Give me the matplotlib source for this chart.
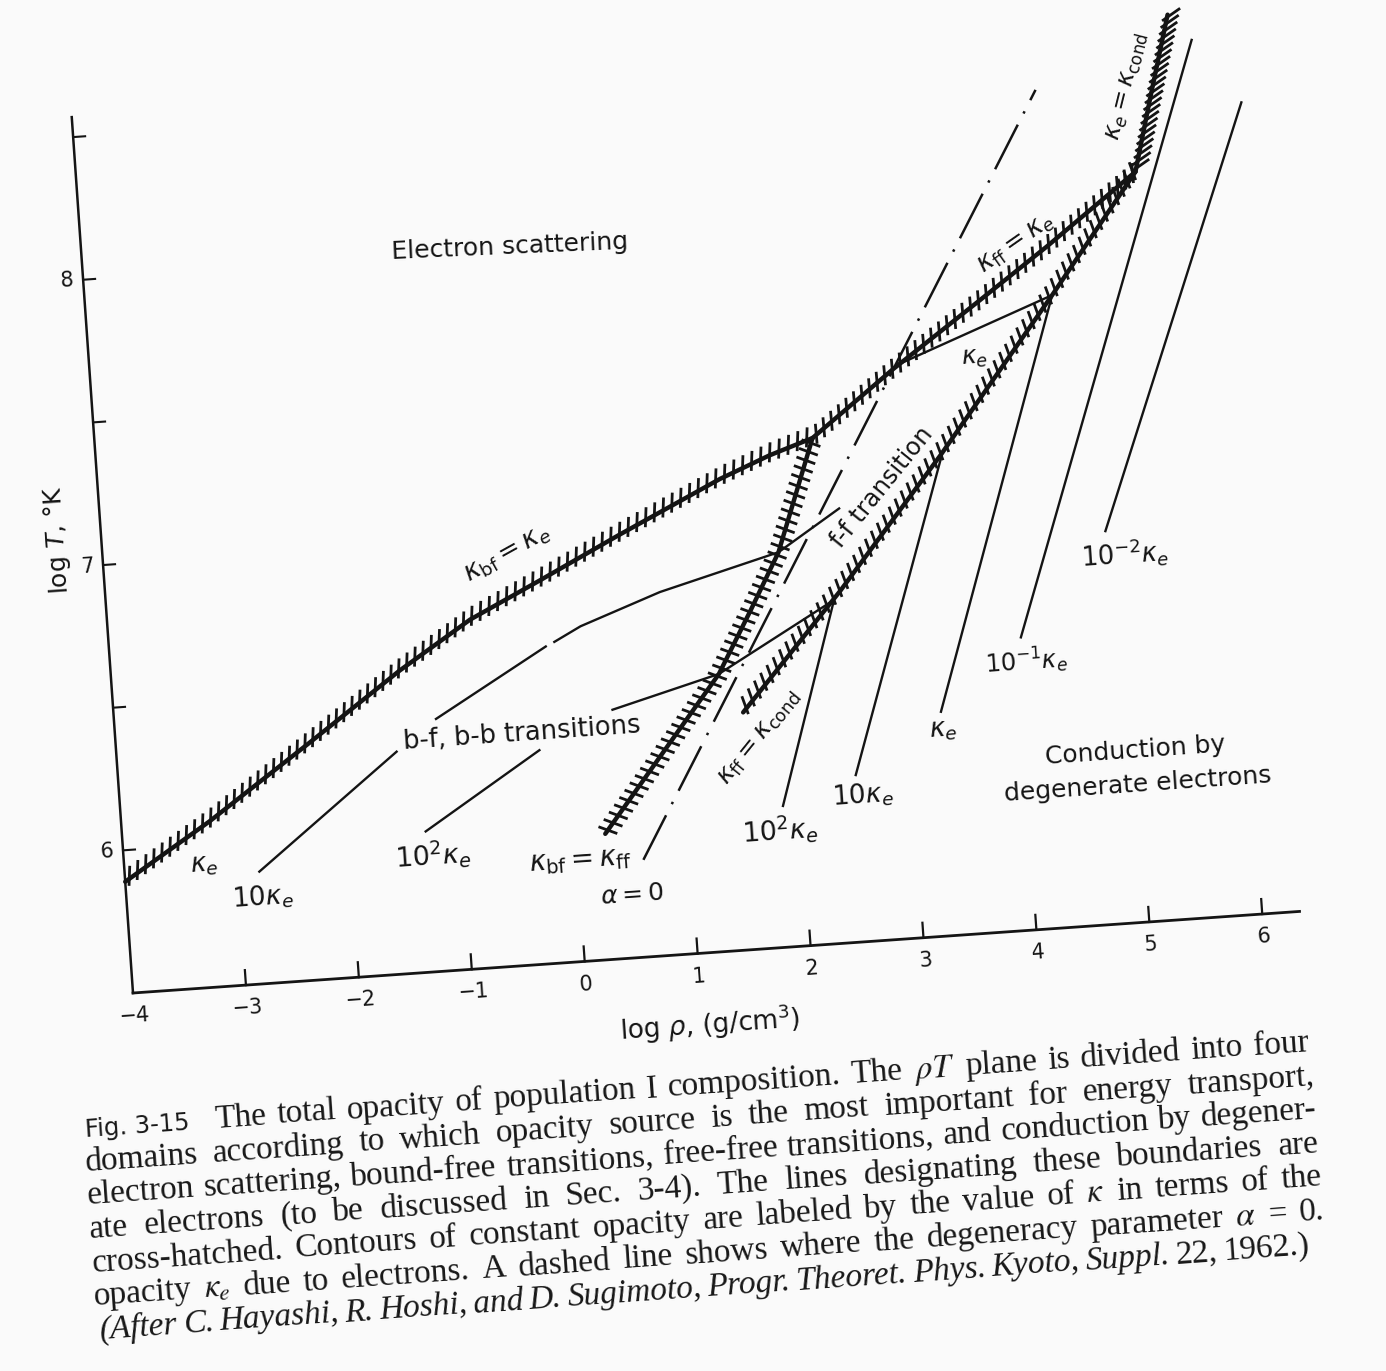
import re
import numpy as np
import matplotlib
matplotlib.use('Agg')
import matplotlib.pyplot as plt
import matplotlib.transforms as mtransforms
from matplotlib.collections import LineCollection

plt.rcParams['font.family'] = ['DejaVu Sans']
plt.rcParams['mathtext.fontset'] = 'dejavusans'

INK = '#141414'
PAPER = '#fafafa'

# ---- values: (log rho [g/cm3], log T [K]) ----
# boundaries (cross-hatched)
bf_e_rho = [-4.0, -3.22, -2.29, -1.45, -0.80, -0.16, 0.57, 1.49, 1.94, 2.33]
bf_e_T = [5.89, 6.08, 6.33, 6.56, 6.72, 6.84, 6.98, 7.15, 7.22, 7.27]
ff_e_rho = [2.33, 3.08, 3.89, 4.51, 5.34]
ff_e_T = [7.27, 7.49, 7.71, 7.88, 8.12]
e_cond_rho = [5.34, 5.52, 5.72]
e_cond_T = [8.12, 8.38, 8.66]
bf_ff_rho = [0.26, 0.82, 1.36, 1.68, 1.96, 2.33]
bf_ff_T = [5.94, 6.21, 6.47, 6.685, 6.88, 7.27]
ff_cond_rho = [1.55, 2.48, 3.45, 4.53, 5.34]
ff_cond_T = [6.33, 6.73, 7.18, 7.71, 8.12]

# contours of constant opacity (nan = gap left for a label)
k10_rho = [-2.82, -1.52, np.nan, -1.17, -0.14, np.nan, -0.08, 0.17, 0.89, 1.96, 2.53]
k10_T = [5.89, 6.28, np.nan, 6.38, 6.61, np.nan, 6.62, 6.67, 6.77, 6.88, 7.02]
k100_rho = [-1.33, -0.26, np.nan, 0.39, 1.36, 2.42]
k100_T = [5.99, 6.25, np.nan, 6.37, 6.47, 6.70]
k100c_rho = [1.84, 2.42]
k100c_T = [5.99, 6.70]
k10c_rho = [2.50, 3.46]
k10c_T = [6.08, 7.18]
k1c_rho = [3.29, 4.53, 3.16]
k1c_T = [6.28, 7.71, 7.51]
k01_rho = [4.04, 5.92]
k01_T = [6.52, 8.57]
k001_rho = [4.85, 6.32]
k001_T = [6.87, 8.34]

# degeneracy parameter alpha = 0
alpha_rho = [0.58, 4.51]
alpha_T = [5.84, 8.43]

x_ticks = [-4, -3, -2, -1, 0, 1, 2, 3, 4, 5, 6]
x_ticklabels = ['\u22124', '\u22123', '\u22122', '\u22121', '0', '1', '2', '3', '4', '5', '6']
y_minor = [6.0, 6.5, 7.0, 7.5, 8.0, 8.5]
y_ticks = [6, 7, 8]

caption = [
    "domains according to which opacity source is the most important for energy transport,",
    "electron scattering, bound-free transitions, free-free transitions, and conduction by degener-",
    "ate electrons (to be discussed in Sec. 3-4).  The lines designating these boundaries are",
    "cross-hatched.  Contours of constant opacity are labeled by the value of $\\kappa$ in terms of the",
    "opacity $\\kappa_e$ due to electrons.  A dashed line shows where the degeneracy parameter $\\alpha$ = 0.",
    "(After C. Hayashi, R. Hoshi, and D. Sugimoto, Progr. Theoret. Phys. Kyoto, Suppl. 22, 1962.)",
]
caption_first = "The total opacity of population I composition.  The $\\rho T$ plane is divided into four"

# ---- page set-up: the scanned plot is tilted by ~4 degrees ----
W, H = 1386, 1371
SX, SY = 113.2, 286.0          # px per unit of log rho / log T
OX, OY = 133, 378              # display px of the axes origin (-4, 5.5)
TILT = 4.0

fig = plt.figure(figsize=(W / 100, H / 100), dpi=100, facecolor=PAPER)
ax = fig.add_axes([0, 0, 1, 1])
ax.set_axis_off()
ax.set_xlim(-4 - OX / SX, -4 + (W - OX) / SX)
ax.set_ylim(5.5 - OY / SY, 5.5 + (H - OY) / SY)
T = ax.transData + mtransforms.Affine2D().rotate_deg_around(OX, OY, TILT)


def hatched(us, vs, ang, a, b, step, lw=2.0):
    ax.plot(us, vs, color=INK, lw=3.2, transform=T,
            solid_joinstyle='round', solid_capstyle='round')
    pts = T.transform(np.column_stack([us, vs]))
    d = np.hypot(*np.diff(pts, axis=0).T)
    s = np.concatenate([[0], np.cumsum(d)])
    ss = np.arange(step * 0.5, s[-1], step)
    xs = np.interp(ss, s, pts[:, 0])
    ys = np.interp(ss, s, pts[:, 1])
    ca, sa = np.cos(np.radians(ang)), np.sin(np.radians(ang))
    segs = [[(x - a * ca, y - a * sa), (x + b * ca, y + b * sa)] for x, y in zip(xs, ys)]
    ax.add_collection(LineCollection(segs, colors=INK, linewidths=lw,
                                     transform=mtransforms.IdentityTransform()),
                      autolim=False)


def thin(us, vs):
    ax.plot(us, vs, color=INK, lw=1.7, transform=T, solid_capstyle='butt')


def label(s, u, v, size, rot=0.0, **kw):
    ax.text(u, v, s, transform=T, rotation=TILT + rot, rotation_mode='anchor',
            ha='center', va='center', fontsize=size, color=INK, **kw)


# axes
ax.plot([-4, 6.33], [5.5, 5.5], color=INK, lw=2.0, transform=T)
ax.plot([-4, -4], [5.5, 8.57], color=INK, lw=1.8, transform=T)
for t, lab in zip(x_ticks, x_ticklabels):
    if t > -4:
        ax.plot([t, t], [5.5, 5.5 + 15 / SY], color=INK, lw=1.6, transform=T)
    label(lab, t, 5.5 - 23 / SY, 15)
for t in y_minor:
    ax.plot([-4, -4 + 12 / SX], [t, t], color=INK, lw=1.5, transform=T)
for t in y_ticks:
    label(str(t), -4 - 16 / SX, t, 15)
label('log $\\rho$, (g/cm$^3$)', 1.07, 5.5 - 72 / SY, 19)
label('log $T$, \u00b0K', -4.39, 7.10, 18, rot=90)

# boundaries
hatched(bf_e_rho, bf_e_T, 88, 7, 13, 10)
hatched(ff_e_rho, ff_e_T, 95, 9, 11, 10)
hatched(bf_ff_rho, bf_ff_T, 160, 10, 10, 9)
hatched(ff_cond_rho, ff_cond_T, 110, 6, 13, 10)
hatched(e_cond_rho, e_cond_T, 35, 6, 16, 7)

# contours
for us, vs in [(k10_rho, k10_T), (k100_rho, k100_T), (k100c_rho, k100c_T),
               (k10c_rho, k10c_T), (k1c_rho, k1c_T), (k01_rho, k01_T),
               (k001_rho, k001_T)]:
    thin(us, vs)
ax.plot(alpha_rho, alpha_T, color=INK, lw=1.8, transform=T,
        linestyle=(0, (20, 5, 1, 5)))

# labels in the plane
label('Electron scattering', -0.22, 8.01, 18, rot=-1.5)
label('b-f, b-b transitions', -0.41, 6.31, 18.5)
label('f-f transition', 2.91, 7.08, 17.5, rot=47)
label('Conduction by', 4.98, 6.10, 18)
label('degenerate electrons', 4.985, 5.98, 18)
label('$\\kappa_{\\rm bf} = \\kappa_e$', -0.43, 6.94, 19, rot=25)
label('$\\kappa_{\\rm ff} = \\kappa_e$', 4.24, 7.90, 18.5, rot=31)
label('$\\kappa_e = \\kappa_{\\rm cond}$', 5.32, 8.42, 17.5, rot=72)
label('$\\kappa_{\\rm ff} = \\kappa_{\\rm cond}$', 1.68, 6.24, 18, rot=47)
label('$\\kappa_{\\rm bf} = \\kappa_{\\rm ff}$', 0.02, 5.855, 20)
label('$\\alpha = 0$', 0.46, 5.72, 18)
label('$\\kappa_e$', -3.29, 5.93, 19)
label('10$\\kappa_e$', -2.80, 5.80, 19)
label('10$^2\\kappa_e$', -1.27, 5.91, 19.5)
label('10$^2\\kappa_e$', 1.80, 5.91, 19.5)
label('10$\\kappa_e$', 2.55, 6.01, 19)
label('$\\kappa_e$', 3.30, 6.22, 19)
label('$\\kappa_e$', 3.81, 7.51, 18)
label('10$^{-1}\\kappa_e$', 4.08, 6.44, 17.5)
label('10$^{-2}\\kappa_e$', 5.01, 6.79, 18.5)

# caption, justified along the tilted baseline
renderer = fig.canvas.get_renderer()
CAP_SIZE = 24
roman_in_last = {'22,', '1962.)'}


def word_width(w, style):
    t = fig.text(0, 0, w, fontsize=CAP_SIZE, family='Liberation Serif',
                 style=style, math_fontfamily='stix')
    wd = t.get_window_extent(renderer=renderer).width
    t.remove()
    return wd


def cap_line(text, u0, u1, v, italic=False):
    words = re.findall(r'\$[^$]*\$\S*|\S+', text)
    styles = []
    for w in words:
        styles.append('italic' if italic and w not in roman_in_last else 'normal')
    widths = [word_width(w, st) for w, st in zip(words, styles)]
    gap = max(((u1 - u0) * SX - sum(widths)) / (len(words) - 1), 4.0)
    x = u0 * SX
    for w, st, wd in zip(words, styles, widths):
        ax.text(x / SX, v, w, transform=T, rotation=TILT, rotation_mode='anchor',
                ha='left', va='baseline', fontsize=CAP_SIZE, family='Liberation Serif',
                style=st, math_fontfamily='stix', color='#181818')
        x += wd + gap


ax.text(-4.51, 5.01, 'Fig. 3-15', transform=T, rotation=TILT, rotation_mode='anchor',
        ha='left', va='baseline', fontsize=17.5, color='#181818')
cap_line(caption_first, -3.36, 6.33, 5.01)
for i, line in enumerate(caption):
    last = i == len(caption) - 1
    cap_line(line, -4.53 if not last else -4.50, 6.36 if not last else 6.21,
             5.01 - 0.118 * (i + 1), italic=last)

fig.savefig('out.png', dpi=100, facecolor=PAPER)
